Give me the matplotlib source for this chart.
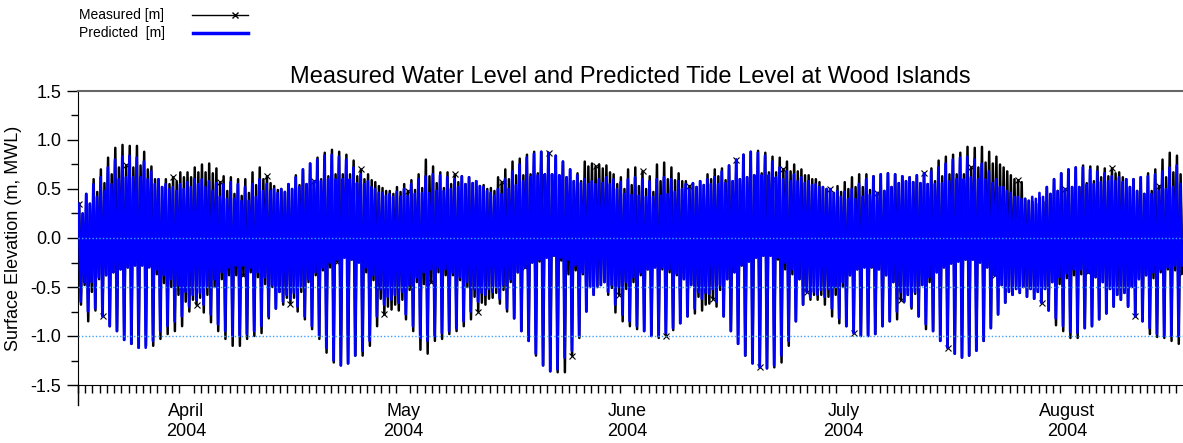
import numpy as np
import matplotlib
matplotlib.use("Agg")
import matplotlib.pyplot as plt
import matplotlib.dates as mdates
from matplotlib.lines import Line2D
from matplotlib.ticker import FixedLocator, MultipleLocator, FormatStrFormatter

plt.rcParams['font.family'] = ['Liberation Sans', 'DejaVu Sans']

# one entry per day, 1 April - 31 August 2004 (153 days)
# predicted tide: higher high, lower high, lower low, higher low [m, MWL]
pred_hh = [0.35, 0.45, 0.55, 0.62, 0.72, 0.80, 0.83, 0.84, 0.82, 0.78,
           0.68, 0.60, 0.55, 0.52, 0.55, 0.57, 0.60, 0.60, 0.58, 0.56,
           0.55, 0.57, 0.55, 0.52, 0.55, 0.60, 0.55, 0.50, 0.50, 0.55,
           0.62, 0.70, 0.76, 0.80, 0.84, 0.85, 0.83, 0.80, 0.72, 0.65,
           0.58, 0.50, 0.46, 0.45, 0.47, 0.50, 0.55, 0.60, 0.63, 0.65,
           0.64, 0.62, 0.60, 0.63, 0.62, 0.58, 0.52, 0.46, 0.50, 0.60,
           0.68, 0.75, 0.82, 0.86, 0.88, 0.87, 0.84, 0.78, 0.70, 0.64,
           0.60, 0.58, 0.60, 0.62, 0.60, 0.57, 0.60, 0.62, 0.60, 0.58,
           0.60, 0.62, 0.60, 0.58, 0.55, 0.56, 0.58, 0.60, 0.62, 0.68,
           0.74, 0.80, 0.85, 0.88, 0.87, 0.84, 0.78, 0.72, 0.68, 0.65,
           0.62, 0.58, 0.55, 0.52, 0.50, 0.48, 0.47, 0.50, 0.55, 0.60,
           0.63, 0.65, 0.66, 0.65, 0.63, 0.62, 0.64, 0.66, 0.68, 0.72,
           0.76, 0.80, 0.82, 0.83, 0.80, 0.76, 0.68, 0.60, 0.52, 0.46,
           0.42, 0.40, 0.42, 0.46, 0.52, 0.60, 0.66, 0.70, 0.72, 0.72,
           0.70, 0.68, 0.66, 0.63, 0.62, 0.60, 0.60, 0.62, 0.63, 0.65,
           0.68, 0.72, 0.74]
pred_lh = [0.25, 0.35, 0.42, 0.48, 0.55, 0.60, 0.62, 0.62, 0.62, 0.60,
           0.55, 0.52, 0.50, 0.48, 0.50, 0.52, 0.55, 0.52, 0.48, 0.42,
           0.40, 0.40, 0.38, 0.38, 0.42, 0.48, 0.48, 0.46, 0.47, 0.50,
           0.52, 0.55, 0.58, 0.58, 0.60, 0.60, 0.60, 0.60, 0.56, 0.55,
           0.52, 0.46, 0.43, 0.42, 0.42, 0.43, 0.45, 0.46, 0.46, 0.48,
           0.48, 0.50, 0.52, 0.55, 0.56, 0.53, 0.48, 0.43, 0.45, 0.50,
           0.54, 0.58, 0.62, 0.64, 0.65, 0.65, 0.64, 0.62, 0.58, 0.56,
           0.55, 0.55, 0.56, 0.55, 0.50, 0.45, 0.44, 0.43, 0.42, 0.42,
           0.43, 0.45, 0.47, 0.50, 0.50, 0.52, 0.54, 0.55, 0.55, 0.56,
           0.58, 0.60, 0.62, 0.64, 0.64, 0.64, 0.62, 0.60, 0.58, 0.58,
           0.56, 0.54, 0.52, 0.50, 0.46, 0.42, 0.40, 0.40, 0.42, 0.44,
           0.46, 0.48, 0.52, 0.56, 0.58, 0.57, 0.56, 0.55, 0.55, 0.56,
           0.58, 0.60, 0.60, 0.62, 0.60, 0.60, 0.56, 0.52, 0.48, 0.42,
           0.40, 0.38, 0.40, 0.42, 0.45, 0.48, 0.50, 0.52, 0.52, 0.54,
           0.55, 0.57, 0.58, 0.58, 0.57, 0.52, 0.48, 0.45, 0.45, 0.48,
           0.50, 0.52, 0.55]
pred_ll = [-0.65, -0.75, -0.72, -0.80, -0.90, -0.95, -1.04, -1.08, -1.12, -1.12,
           -1.05, -0.95, -0.90, -0.85, -0.80, -0.70, -0.63, -0.68, -0.78, -0.88,
           -0.95, -1.00, -1.00, -0.98, -0.95, -0.90, -0.80, -0.72, -0.65, -0.62,
           -0.70, -0.80, -0.90, -1.00, -1.12, -1.25, -1.30, -1.28, -1.20, -1.15,
           -1.05, -0.80, -0.68, -0.63, -0.66, -0.78, -0.90, -1.02, -1.05, -1.00,
           -0.97, -0.95, -0.92, -0.85, -0.75, -0.65, -0.58, -0.55, -0.62, -0.72,
           -0.82, -0.95, -1.05, -1.18, -1.30, -1.36, -1.34, -1.22, -1.15, -1.00,
           -0.75, -0.58, -0.48, -0.55, -0.68, -0.78, -0.85, -0.90, -0.95, -1.00,
           -1.00, -0.97, -0.92, -0.87, -0.80, -0.72, -0.62, -0.57, -0.65, -0.80,
           -0.95, -1.08, -1.20, -1.28, -1.32, -1.33, -1.30, -1.20, -1.05, -0.85,
           -0.68, -0.60, -0.58, -0.60, -0.72, -0.82, -0.90, -0.97, -1.00, -1.00,
           -0.98, -0.90, -0.85, -0.75, -0.65, -0.70, -0.80, -0.88, -0.95, -1.05,
           -1.12, -1.18, -1.22, -1.20, -1.15, -1.05, -0.92, -0.78, -0.66, -0.58,
           -0.56, -0.60, -0.62, -0.66, -0.74, -0.82, -0.90, -0.96, -0.97, -0.92,
           -0.90, -0.83, -0.77, -0.70, -0.63, -0.70, -0.80, -0.85, -0.92, -0.98,
           -1.00, -1.00, -1.00]
pred_hl = [-0.45, -0.45, -0.40, -0.38, -0.35, -0.32, -0.30, -0.28, -0.28, -0.30,
           -0.32, -0.38, -0.42, -0.48, -0.55, -0.58, -0.56, -0.50, -0.42, -0.35,
           -0.30, -0.28, -0.28, -0.30, -0.35, -0.40, -0.48, -0.55, -0.58, -0.56,
           -0.50, -0.42, -0.35, -0.30, -0.25, -0.22, -0.20, -0.22, -0.25, -0.30,
           -0.38, -0.52, -0.60, -0.58, -0.55, -0.48, -0.40, -0.35, -0.32, -0.30,
           -0.32, -0.35, -0.40, -0.45, -0.52, -0.56, -0.52, -0.50, -0.48, -0.42,
           -0.35, -0.30, -0.25, -0.22, -0.20, -0.18, -0.20, -0.22, -0.28, -0.35,
           -0.50, -0.50, -0.45, -0.48, -0.50, -0.45, -0.40, -0.35, -0.32, -0.30,
           -0.30, -0.32, -0.36, -0.42, -0.48, -0.55, -0.56, -0.52, -0.48, -0.42,
           -0.35, -0.28, -0.24, -0.20, -0.18, -0.18, -0.20, -0.25, -0.32, -0.42,
           -0.55, -0.55, -0.53, -0.52, -0.50, -0.45, -0.38, -0.32, -0.30, -0.30,
           -0.32, -0.38, -0.45, -0.55, -0.58, -0.55, -0.48, -0.40, -0.35, -0.30,
           -0.26, -0.24, -0.22, -0.22, -0.25, -0.30, -0.38, -0.48, -0.55, -0.52,
           -0.50, -0.52, -0.55, -0.52, -0.45, -0.40, -0.36, -0.32, -0.32, -0.35,
           -0.40, -0.45, -0.52, -0.58, -0.56, -0.50, -0.42, -0.38, -0.35, -0.32,
           -0.30, -0.28, -0.28]

# measured minus predicted at high and low water [m]
surge_hi = [0.00, 0.00, 0.05, 0.08, 0.10, 0.12, 0.12, 0.10, 0.12, 0.10,
            0.05, 0.00, 0.05, 0.10, 0.12, 0.10, 0.12, 0.15, 0.18, 0.15,
            0.08, 0.05, 0.05, 0.08, 0.12, 0.12, 0.08, 0.03, 0.00, 0.00,
            0.02, 0.00, 0.00, 0.02, 0.03, 0.05, 0.05, 0.05, 0.07, 0.05,
            0.07, 0.07, 0.05, 0.03, 0.05, 0.05, 0.04, 0.05, 0.17, 0.08,
            0.03, 0.05, 0.05, 0.00, 0.00, 0.00, 0.02, 0.05, 0.12, 0.10,
            0.10, 0.06, 0.03, 0.02, 0.00, 0.00, 0.00, 0.00, 0.00, 0.02,
            0.18, 0.18, 0.15, 0.12, 0.05, 0.05, 0.10, 0.10, 0.08, 0.05,
            0.15, 0.15, 0.12, 0.08, 0.03, 0.00, 0.00, 0.05, 0.08, 0.03,
            0.00, 0.00, 0.00, 0.00, 0.02, 0.03, 0.05, 0.10, 0.10, 0.10,
            0.08, 0.06, 0.05, 0.00, 0.00, 0.05, 0.10, 0.12, 0.10, 0.05,
            0.00, 0.00, 0.00, 0.00, 0.00, 0.00, 0.00, 0.00, 0.03, 0.07,
            0.07, 0.05, 0.05, 0.10, 0.12, 0.17, 0.20, 0.23, 0.20, 0.18,
            0.17, 0.00, -0.05, -0.05, 0.00, 0.00, 0.00, 0.00, 0.00, 0.02,
            0.03, 0.05, 0.05, 0.08, 0.05, 0.00, 0.00, 0.00, 0.03, 0.05,
            0.12, 0.15, 0.10]
surge_lo = [-0.03, -0.10, -0.02, 0.00, 0.00, 0.00, 0.00, 0.00, 0.00, 0.02,
            -0.05, -0.08, -0.08, -0.10, -0.10, -0.05, -0.05, -0.08, -0.08, -0.07,
            -0.08, -0.10, -0.10, -0.05, -0.05, -0.07, -0.02, 0.00, -0.03, -0.05,
            -0.05, -0.03, -0.03, -0.03, -0.05, -0.02, 0.00, 0.00, 0.00, -0.05,
            -0.05, -0.10, -0.10, -0.10, -0.08, -0.05, -0.05, -0.12, -0.13, -0.05,
            -0.06, -0.03, -0.03, -0.05, -0.08, -0.10, -0.10, -0.06, -0.05, -0.03,
            0.00, 0.00, 0.00, -0.02, 0.00, 0.00, -0.03, -0.15, -0.05, -0.02,
            0.00, 0.00, 0.00, -0.03, -0.08, -0.07, -0.05, -0.03, 0.00, 0.00,
            -0.02, -0.03, -0.02, 0.00, 0.00, -0.05, -0.12, -0.10, -0.05, 0.00,
            0.00, 0.00, 0.00, 0.00, 0.00, 0.00, -0.02, -0.07, -0.05, 0.00,
            0.00, -0.03, -0.05, -0.08, -0.08, -0.05, 0.00, 0.00, 0.00, 0.00,
            0.00, 0.00, 0.00, -0.08, 0.00, -0.02, 0.00, -0.05, 0.00, 0.00,
            0.00, 0.00, 0.00, 0.00, 0.00, 0.00, 0.00, 0.00, 0.00, 0.00,
            0.00, 0.00, 0.00, 0.00, 0.00, -0.07, -0.05, -0.06, -0.05, 0.00,
            0.00, 0.00, 0.00, 0.00, 0.00, 0.00, 0.00, 0.00, -0.06, -0.03,
            -0.02, -0.05, -0.08]

month_labels = ['April\n2004', 'May\n2004', 'June\n2004', 'July\n2004', 'August\n2004']
month_mid = ['2004-04-16', '2004-05-16', '2004-06-16', '2004-07-16', '2004-08-16']

days = mdates.date2num(np.arange(np.datetime64('2004-04-01'), np.datetime64('2004-09-01')))

# order of the four turning points within a day: HH, LL, LH, HL
phase = np.array([0.125, 0.375, 0.625, 0.875])
t_pred = (days[:, None] + phase).ravel()
z_pred = np.column_stack([pred_hh, pred_ll, pred_lh, pred_hl]).ravel()

hh, ll, lh, hl = (np.array(a) for a in (pred_hh, pred_ll, pred_lh, pred_hl))
s_hi, s_lo = np.array(surge_hi), np.array(surge_lo)
t_meas = t_pred + 0.04
z_meas = np.column_stack([hh + s_hi, ll + s_lo, lh + s_hi, hl + s_lo]).ravel()

fig = plt.figure(figsize=(11.83, 4.43), dpi=100)
ax = fig.add_axes([78 / 1183, 1 - 385 / 443, 1 - 78 / 1183, (385 - 91) / 443])

ax.plot(t_meas, z_meas, color='black', lw=1.8, marker='x', markevery=13,
        ms=4, mew=0.8, zorder=2)
ax.plot(t_pred, z_pred, color='#0000ff', lw=1.9, zorder=3)

for lev in [0.0, -0.5, -1.0]:
    ax.axhline(lev, color='#3fa0ff', lw=1, ls=(0, (1, 1.5)), zorder=4)

ax.set_xlim(days[0], days[-1] + 1)
ax.set_ylim(-1.5, 1.5)

ax.xaxis.set_major_locator(FixedLocator(mdates.datestr2num(month_mid)))
ax.set_xticklabels(month_labels)
ax.xaxis.set_minor_locator(FixedLocator(days))
ax.tick_params(axis='x', which='major', length=0, pad=13, labelsize=13)
ax.tick_params(axis='x', which='minor', length=6, width=1, direction='out')

ax.yaxis.set_major_locator(MultipleLocator(0.5))
ax.yaxis.set_minor_locator(MultipleLocator(0.25))
ax.yaxis.set_major_formatter(FormatStrFormatter('%.1f'))
ax.tick_params(axis='y', which='major', length=8, width=1, pad=4, labelsize=13)
ax.tick_params(axis='y', which='minor', length=5, width=1)

ax.spines['right'].set_visible(False)
ax.spines['top'].set_color('#666666')
ax.spines['top'].set_linewidth(1.5)
# left axis line runs a little past the bottom axis
ax.add_line(Line2D([0, 0], [0, -0.068], transform=ax.transAxes, color='black',
                   lw=1, clip_on=False))

ax.set_ylabel('Surface Elevation (m, MWL)', fontsize=13, labelpad=6)
ax.set_title('Measured Water Level and Predicted Tide Level at Wood Islands',
             fontsize=17, pad=6)

# legend above the plot
fig.text(79 / 1183, 1 - 15 / 443, 'Measured [m]', fontsize=10, va='center')
fig.text(79 / 1183, 1 - 33 / 443, 'Predicted  [m]', fontsize=10, va='center')
fig.add_artist(Line2D([192 / 1183, 248 / 1183], [1 - 15 / 443] * 2, color='black', lw=1))
fig.add_artist(Line2D([235 / 1183], [1 - 15 / 443], color='black', marker='x', ms=5, mew=1))
fig.add_artist(Line2D([193 / 1183, 248 / 1183], [1 - 33 / 443] * 2, color='#0000ff', lw=2.5))

fig.savefig('out.png', dpi=100)
